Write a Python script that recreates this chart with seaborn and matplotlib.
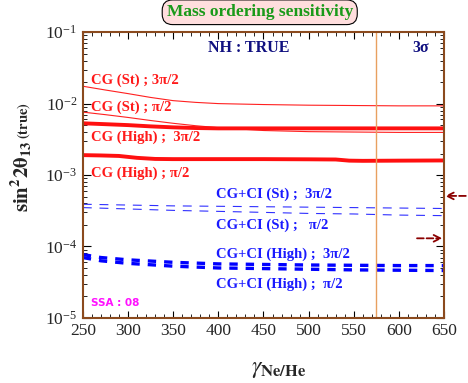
import numpy as np
import pandas as pd
import matplotlib
matplotlib.use("Agg")
import matplotlib.pyplot as plt
import seaborn as sns
from matplotlib.ticker import LogLocator, MultipleLocator, LogFormatterSciNotation

# ---------------- data ----------------
x_cg_st_3 = [250, 275, 300, 325, 350, 375, 400, 450, 500, 550, 600, 650]
y_cg_st_3 = [1.75e-2, 1.55e-2, 1.38e-2, 1.22e-2, 1.10e-2, 1.04e-2, 1.0e-2, 9.7e-3, 9.5e-3, 9.4e-3, 9.3e-3, 9.3e-3]

x_cg_st_1 = [250, 275, 300, 325, 350, 375, 400, 450, 500, 550, 600, 650]
y_cg_st_1 = [7.6e-3, 7.0e-3, 6.4e-3, 5.8e-3, 5.3e-3, 4.9e-3, 4.6e-3, 4.2e-3, 4.05e-3, 4.0e-3, 3.95e-3, 3.95e-3]

x_cg_hi_3 = [250, 275, 300, 325, 350, 375, 400, 450, 500, 550, 600, 650]
y_cg_hi_3 = [5.3e-3, 5.15e-3, 5.0e-3, 4.8e-3, 4.65e-3, 4.55e-3, 4.5e-3, 4.5e-3, 4.5e-3, 4.5e-3, 4.5e-3, 4.5e-3]

x_cg_hi_1 = [250, 270, 290, 310, 330, 350, 400, 450, 500, 530, 545, 560, 600, 650]
y_cg_hi_1 = [1.9e-3, 1.88e-3, 1.85e-3, 1.74e-3, 1.68e-3, 1.67e-3, 1.67e-3, 1.67e-3, 1.66e-3, 1.65e-3, 1.59e-3, 1.58e-3, 1.59e-3, 1.6e-3]

x_ci_st_3 = [250, 300, 350, 400, 450, 500, 550, 600, 650]
y_ci_st_3 = [3.9e-4, 3.8e-4, 3.7e-4, 3.65e-4, 3.6e-4, 3.55e-4, 3.5e-4, 3.45e-4, 3.4e-4]

x_ci_st_1 = [250, 300, 350, 400, 450, 500, 550, 600, 650]
y_ci_st_1 = [3.5e-4, 3.35e-4, 3.2e-4, 3.1e-4, 3.0e-4, 2.9e-4, 2.85e-4, 2.75e-4, 2.7e-4]

x_ci_hi_3 = [250, 270, 300, 350, 400, 450, 500, 550, 600, 650]
y_ci_hi_3 = [7.7e-5, 7.0e-5, 6.5e-5, 6.0e-5, 5.7e-5, 5.6e-5, 5.5e-5, 5.45e-5, 5.4e-5, 5.4e-5]

x_ci_hi_1 = [250, 270, 300, 350, 400, 450, 500, 550, 600, 650]
y_ci_hi_1 = [7.0e-5, 6.3e-5, 5.8e-5, 5.3e-5, 5.0e-5, 4.9e-5, 4.8e-5, 4.7e-5, 4.65e-5, 4.6e-5]

vline_x = 575
arrow_left_y = 5.1e-4
arrow_right_y = 1.3e-4

series_names = ["CG (St) ; 3π/2", "CG (St) ; π/2", "CG (High) ;  3π/2", "CG (High) ; π/2",
                "CG+CI (St) ;  3π/2", "CG+CI (St) ;   π/2", "CG+CI (High) ;  3π/2", "CG+CI (High) ;  π/2"]
xs = [x_cg_st_3, x_cg_st_1, x_cg_hi_3, x_cg_hi_1, x_ci_st_3, x_ci_st_1, x_ci_hi_3, x_ci_hi_1]
ys = [y_cg_st_3, y_cg_st_1, y_cg_hi_3, y_cg_hi_1, y_ci_st_3, y_ci_st_1, y_ci_hi_3, y_ci_hi_1]

rows = []
for name, xx, yy in zip(series_names, xs, ys):
    for a, b in zip(xx, yy):
        rows.append({"series": name, "x": a, "y": b})
df = pd.DataFrame(rows)

# ---------------- style ----------------
sns.set_style("ticks")
plt.rcParams['font.family'] = ['Liberation Serif', 'DejaVu Serif']
plt.rcParams['mathtext.fontset'] = 'stix'

fig = plt.figure(figsize=(4.68, 3.83), dpi=100)
ax = fig.add_axes([0.177, 0.170, 0.772, 0.746])

styles = {
    series_names[0]: dict(color="#ff2020", lw=0.8, ls="-"),
    series_names[1]: dict(color="#ff2020", lw=0.8, ls="-"),
    series_names[2]: dict(color="#ff1010", lw=2.8, ls="-"),
    series_names[3]: dict(color="#ff1010", lw=2.8, ls="-"),
    series_names[4]: dict(color="#3030ff", lw=0.8, ls=(0, (8, 7))),
    series_names[5]: dict(color="#3030ff", lw=0.8, ls=(0, (8, 7))),
    series_names[6]: dict(color="#0000ff", lw=2.4, ls=(0, (2.5, 2.4))),
    series_names[7]: dict(color="#0000ff", lw=2.4, ls=(0, (2.5, 2.4))),
}
for name in series_names:
    st = styles[name]
    sns.lineplot(data=df[df.series == name], x="x", y="y", ax=ax, color=st["color"],
                 linewidth=st["lw"], linestyle=st["ls"], legend=False, estimator=None)

ax.set_yscale("log")
ax.set_xlim(250, 650)
ax.set_ylim(1e-5, 1e-1)

ax.axvline(vline_x, color="#e8a060", lw=1.0)

# ticks
ax.xaxis.set_major_locator(MultipleLocator(50))
ax.xaxis.set_minor_locator(MultipleLocator(10))
ax.yaxis.set_major_locator(LogLocator(base=10, numticks=10))
ax.yaxis.set_minor_locator(LogLocator(base=10, subs=np.arange(2, 10), numticks=20))
ax.yaxis.set_major_formatter(LogFormatterSciNotation())
ax.tick_params(which="both", direction="in", top=True, right=True, color="black")
ax.tick_params(which="major", length=6, width=0.8, labelsize=12.5, pad=4)
ax.tick_params(which="minor", length=3, width=0.6)
ax.tick_params(axis="x", which="major", length=5)
for lab in ax.get_xticklabels() + ax.get_yticklabels():
    lab.set_fontfamily("Liberation Serif")

for sp in ax.spines.values():
    sp.set_color("#8b4a1e")
    sp.set_linewidth(1.5)

ax.set_xlabel("")
ax.set_ylabel("")

# axis labels
fig.text(0.595, 0.035, r"$\gamma_{\mathbf{Ne/He}}$", ha="center", va="center", fontsize=17)
fig.text(0.045, 0.540, r"$\mathbf{sin^{2}2\theta_{13}}$", rotation=90, ha="center", va="center", fontsize=15)
fig.text(0.050, 0.685, r"$\mathbf{(true)}$", rotation=90, ha="center", va="center", fontsize=10.5)

# series labels
red = "#ff1a1a"
blue = "#1a1aff"
lab_kw = dict(fontsize=10.5, fontweight="bold", transform=ax.transData, va="center", ha="left")
label_pos = [(259, 2.12e-2, red), (259, 8.9e-3, red), (259, 3.4e-3, red), (259, 1.05e-3, red),
             (397, 5.4e-4, blue), (397, 1.95e-4, blue), (397, 7.9e-5, blue), (397, 3.0e-5, blue)]
texts = ["CG (St) ; 3π/2", "CG (St) ; π/2", "CG (High) ;  3π/2", "CG (High) ; π/2",
         "CG+CI (St) ;  3π/2", "CG+CI (St) ;   π/2", "CG+CI (High) ;  3π/2", "CG+CI (High) ;  π/2"]
for (px, py, c), t in zip(label_pos, texts):
    ax.text(px, py, t, color=c, **lab_kw)

ax.text(0.46, 0.944, "NH : TRUE", transform=ax.transAxes, color="#101080", fontsize=11.5,
        fontweight="bold", ha="center", va="center")
ax.text(0.936, 0.944, "3σ", transform=ax.transAxes, color="#101080", fontsize=11.5,
        fontweight="bold", ha="center", va="center")
ax.text(0.022, 0.052, "SSA : 08", transform=ax.transAxes, color="#ff10ff", fontsize=7.5,
        fontweight="bold", fontfamily="DejaVu Sans", ha="left", va="center")

# title box
fig.text(0.555, 0.968, "Mass ordering sensitivity", ha="center", va="center", color="#1a9a1a",
         fontsize=12.5, fontweight="bold",
         bbox=dict(boxstyle="round,pad=0.25,rounding_size=0.6", fc="#ffdede", ec="black", lw=0.8))

# arrows
ax.annotate("", xy=(651, arrow_left_y), xytext=(674, arrow_left_y),
            arrowprops=dict(arrowstyle="->", color="#8b0000", lw=1.3, linestyle="--",
                            shrinkA=0, shrinkB=0, mutation_scale=12),
            annotation_clip=False)
ax.annotate("", xy=(648, arrow_right_y), xytext=(620, arrow_right_y),
            arrowprops=dict(arrowstyle="->", color="#8b0000", lw=1.3, linestyle="--",
                            shrinkA=0, shrinkB=0, mutation_scale=12),
            annotation_clip=False)

fig.savefig("out.png", dpi=100)
